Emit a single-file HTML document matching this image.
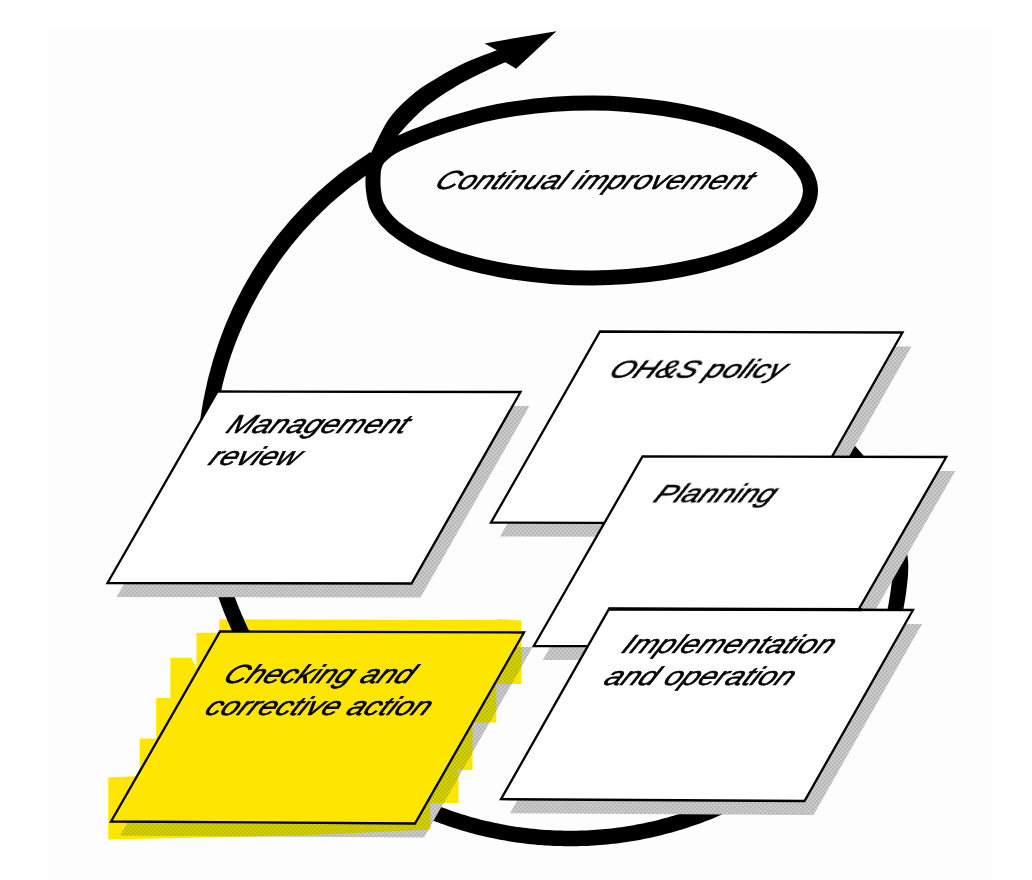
<!DOCTYPE html>
<html><head><meta charset="utf-8"><title>OH&amp;S management system</title>
<style>html,body{margin:0;padding:0;background:#fff;}body{width:1032px;height:880px;overflow:hidden;font-family:"Liberation Sans",sans-serif;}svg{display:block;isolation:isolate;}</style>
</head><body>
<svg width="1032" height="880" viewBox="0 0 1032 880">
<defs>
<pattern id="dither" width="4" height="4" patternUnits="userSpaceOnUse"><rect width="4" height="4" fill="#cacaca"/><rect width="2" height="2" fill="#b9b9b9"/><rect x="2" y="2" width="2" height="2" fill="#b9b9b9"/></pattern>
<pattern id="olive" width="4" height="4" patternUnits="userSpaceOnUse"><rect width="4" height="4" fill="#d2d008"/><rect width="2" height="2" fill="#c2c000"/><rect x="2" y="2" width="2" height="2" fill="#c2c000"/></pattern>
<clipPath id="hlclip"><polygon points="219.3,619.3 497.0,620.0 497.0,619.0 521.5,620.5 521.5,684.0 496.3,684.0 496.3,722.5 472.5,722.5 472.5,770.0 458.5,770.0 458.5,803.0 430.2,803.0 430.2,829.5 300.0,835.5 108.3,839.5 108.3,777.6 139.7,776.0 139.7,738.4 156.2,738.4 156.2,698.0 170.4,698.0 170.4,657.7 191.0,657.7 196.5,668.0 196.5,632.7 219.3,632.7"/></clipPath>
<filter id="ident" x="0" y="0" width="100%" height="100%" filterUnits="userSpaceOnUse"><feOffset dx="0" dy="0"/></filter>
<filter id="soft" x="-5%" y="-5%" width="110%" height="110%"><feGaussianBlur stdDeviation="0.8"/></filter>
</defs>
<rect width="1032" height="880" fill="#fff"/>
<rect x="48" y="28" width="944" height="852" fill="#fdfdfd"/>
<polygon points="219.3,619.3 497.0,620.0 497.0,619.0 521.5,620.5 521.5,684.0 496.3,684.0 496.3,722.5 472.5,722.5 472.5,770.0 458.5,770.0 458.5,803.0 430.2,803.0 430.2,829.5 300.0,835.5 108.3,839.5 108.3,777.6 139.7,776.0 139.7,738.4 156.2,738.4 156.2,698.0 170.4,698.0 170.4,657.7 191.0,657.7 196.5,668.0 196.5,632.7 219.3,632.7" fill="#ffe600"/>
<g>
<path d="M370.1 152.1 L368.7 153.1 L366.8 154.4 L364.5 156.0 L362.0 157.7 L359.3 159.6 L356.3 161.6 L353.3 163.7 L350.2 165.9 L347.1 168.1 L344.1 170.3 L341.2 172.5 L338.5 174.6 L335.9 176.7 L333.4 178.7 L330.9 180.8 L328.4 182.9 L325.9 185.1 L323.4 187.2 L321.0 189.4 L318.5 191.6 L316.1 193.8 L313.7 196.0 L311.4 198.3 L309.0 200.6 L306.7 202.9 L304.4 205.2 L302.1 207.5 L299.8 209.9 L297.6 212.3 L295.4 214.7 L293.2 217.1 L291.0 219.5 L288.8 222.0 L286.7 224.5 L284.6 227.0 L282.5 229.5 L280.4 232.0 L278.3 234.5 L276.3 237.1 L274.3 239.7 L272.3 242.3 L270.4 244.9 L268.4 247.6 L266.5 250.2 L264.6 252.9 L262.8 255.6 L260.9 258.3 L259.1 261.0 L257.3 263.7 L255.6 266.5 L253.8 269.3 L252.1 272.1 L250.4 274.9 L248.8 277.7 L247.1 280.5 L245.5 283.4 L243.9 286.2 L242.4 289.1 L240.8 292.0 L239.3 294.9 L237.8 297.8 L236.4 300.7 L234.9 303.7 L233.5 306.6 L232.1 309.6 L230.8 312.6 L229.5 315.5 L228.2 318.5 L226.9 321.6 L225.6 324.6 L224.4 327.6 L223.2 330.6 L222.0 333.7 L220.9 336.7 L219.8 339.8 L218.7 342.9 L217.6 346.0 L216.6 349.1 L215.6 352.2 L214.6 355.3 L213.6 358.4 L212.7 361.6 L211.8 364.7 L210.9 367.8 L210.1 371.0 L209.2 374.2 L208.4 377.3 L207.6 380.5 L206.9 383.7 L206.2 386.9 L205.5 390.0 L204.8 393.2 L204.2 396.4 L203.5 399.6 L202.9 402.8 L202.4 406.1 L201.8 409.3 L201.3 412.5 L200.8 415.7 L200.3 418.9 L199.9 422.2 L199.5 425.4 L199.1 428.6 L198.7 431.9 L198.4 435.1 L198.1 438.4 L197.8 441.7 L197.6 444.9 L197.4 448.2 L197.2 451.4 L197.0 454.7 L196.9 458.0 L196.8 461.2 L196.7 464.5 L196.7 467.8 L196.6 471.1 L196.7 474.3 L196.7 477.6 L196.8 480.9 L196.9 484.1 L197.0 487.4 L197.1 490.7 L197.3 493.9 L197.5 497.2 L197.8 500.5 L198.0 503.7 L198.3 507.0 L198.7 510.3 L199.0 513.5 L199.4 516.8 L199.8 520.0 L200.2 523.2 L200.7 526.5 L201.2 529.7 L201.7 533.0 L202.3 536.2 L202.9 539.4 L203.5 542.6 L204.1 545.8 L204.8 549.1 L205.5 552.3 L206.2 555.4 L206.9 558.6 L207.7 561.8 L208.5 565.0 L209.3 568.2 L210.2 571.3 L211.1 574.5 L212.0 577.6 L213.0 580.8 L213.9 583.9 L214.9 587.0 L215.9 590.1 L217.0 593.2 L218.1 596.3 L219.2 599.4 L220.3 602.5 L221.4 605.6 L222.6 608.6 L223.8 611.7 L225.0 614.7 L226.3 617.7 L227.5 620.8 L228.9 623.8 L230.2 626.8 L231.5 629.8 L232.9 632.8 L234.3 635.7 L235.8 638.7 L237.2 641.6 L238.7 644.5 L240.3 647.4 L241.8 650.4 L243.4 653.2 L245.0 656.1 L246.6 659.0 L248.2 661.8 L249.9 664.7 L251.6 667.5 L253.3 670.3 L255.1 673.0 L256.9 675.8 L258.7 678.6 L260.5 681.3 L262.4 684.0 L264.2 686.7 L266.1 689.4 L268.1 692.1 L270.0 694.7 L272.0 697.4 L274.0 700.0 L276.0 702.6 L278.0 705.2 L280.1 707.7 L282.2 710.3 L284.3 712.8 L286.4 715.3 L288.5 717.8 L290.7 720.3 L292.9 722.7 L295.1 725.2 L297.4 727.6 L299.6 730.0 L301.9 732.4 L304.2 734.7 L306.5 737.0 L308.8 739.4 L311.2 741.7 L313.6 743.9 L316.0 746.2 L318.4 748.4 L320.8 750.7 L323.3 752.8 L325.8 755.0 L328.3 757.2 L330.8 759.3 L333.3 761.4 L335.9 763.5 L338.4 765.5 L341.0 767.6 L343.6 769.6 L346.2 771.6 L348.9 773.6 L351.5 775.5 L354.2 777.4 L356.9 779.3 L359.6 781.2 L362.3 783.1 L365.1 784.9 L367.8 786.7 L370.6 788.5 L373.4 790.2 L376.2 792.0 L379.0 793.7 L381.9 795.4 L384.7 797.0 L387.6 798.7 L390.5 800.3 L393.3 801.9 L396.2 803.4 L399.2 805.0 L402.1 806.5 L405.0 808.0 L408.0 809.4 L411.0 810.9 L413.9 812.3 L416.9 813.7 L420.0 815.0 L423.0 816.3 L426.0 817.6 L429.1 818.9 L432.2 820.2 L435.2 821.4 L438.3 822.5 L441.4 823.7 L444.5 824.8 L447.7 825.9 L450.8 827.0 L453.9 828.0 L457.1 829.0 L460.2 830.0 L463.4 830.9 L466.6 831.8 L469.7 832.7 L472.9 833.6 L476.1 834.4 L479.3 835.2 L482.5 836.0 L485.7 836.7 L489.0 837.5 L492.2 838.1 L495.4 838.8 L498.7 839.4 L501.9 840.1 L505.1 840.6 L508.4 841.2 L511.6 841.7 L514.9 842.2 L518.2 842.7 L521.4 843.1 L524.7 843.5 L528.0 843.9 L531.3 844.3 L534.6 844.6 L537.8 844.9 L541.1 845.1 L544.4 845.4 L547.7 845.6 L551.0 845.8 L554.3 845.9 L557.6 846.0 L560.9 846.1 L564.2 846.2 L567.5 846.2 L570.8 846.3 L574.1 846.2 L577.4 846.2 L580.7 846.1 L584.0 846.0 L587.2 845.9 L590.5 845.7 L593.8 845.5 L597.1 845.3 L600.4 845.1 L603.7 844.8 L607.0 844.5 L610.2 844.1 L613.5 843.8 L616.8 843.4 L620.1 843.0 L623.3 842.5 L626.6 842.1 L629.8 841.6 L633.1 841.0 L636.3 840.5 L639.6 839.9 L642.8 839.3 L646.0 838.6 L649.3 837.9 L652.5 837.2 L655.7 836.5 L658.9 835.7 L662.1 835.0 L665.3 834.1 L668.5 833.3 L671.7 832.4 L674.8 831.5 L678.0 830.6 L681.1 829.7 L684.3 828.7 L687.4 827.7 L690.6 826.6 L693.7 825.6 L696.8 824.5 L699.9 823.4 L703.0 822.2 L706.0 821.1 L709.1 819.9 L712.2 818.7 L715.2 817.4 L718.3 816.1 L721.3 814.8 L724.3 813.5 L727.3 812.2 L730.3 810.8 L733.3 809.4 L736.3 807.9 L739.2 806.4 L742.2 804.9 L745.1 803.4 L748.0 801.8 L750.9 800.2 L753.8 798.6 L756.6 797.0 L759.5 795.3 L762.3 793.6 L765.1 791.8 L767.9 790.1 L770.7 788.3 L773.4 786.5 L776.1 784.6 L778.9 782.7 L781.5 780.8 L784.2 778.9 L786.9 776.9 L789.5 774.9 L792.1 772.9 L794.7 770.8 L797.2 768.8 L799.8 766.7 L802.3 764.6 L804.8 762.5 L807.2 760.4 L809.7 758.2 L812.2 756.0 L814.6 753.8 L817.0 751.6 L819.4 749.4 L821.8 747.1 L824.1 744.8 L826.4 742.5 L828.7 740.2 L831.0 737.9 L833.3 735.5 L835.5 733.2 L837.7 730.8 L839.9 728.4 L842.1 725.9 L844.3 723.5 L846.4 721.0 L848.5 718.5 L850.6 716.0 L852.7 713.5 L854.8 710.9 L856.8 708.3 L858.7 705.6 L860.7 703.0 L862.6 700.3 L864.4 697.6 L866.2 694.9 L868.0 692.1 L869.8 689.3 L871.5 686.6 L873.2 683.8 L874.8 681.0 L876.5 678.2 L878.1 675.4 L879.6 672.7 L881.1 670.1 L882.6 667.7 L884.1 665.3 L885.6 662.9 L887.1 660.3 L888.7 657.7 L890.2 654.9 L891.7 651.9 L893.1 648.6 L894.6 645.1 L895.9 641.2 L897.2 637.0 L898.4 632.4 L899.6 627.3 L900.8 621.9 L902.0 616.2 L903.2 610.2 L904.3 604.1 L905.3 598.0 L906.2 592.0 L906.9 586.1 L907.5 580.5 L908.0 575.2 L908.2 570.2 L908.3 565.6 L908.1 561.2 L907.6 557.0 L907.1 553.0 L906.3 549.2 L905.5 545.7 L904.6 542.3 L903.7 539.1 L902.8 536.1 L902.0 533.3 L901.2 530.6 L900.5 528.0 L899.8 525.4 L899.1 522.8 L898.4 520.5 L897.7 518.2 L896.9 516.0 L896.2 514.0 L895.4 512.0 L894.6 510.0 L893.8 508.0 L892.9 506.0 L892.0 504.0 L891.1 501.8 L890.1 499.6 L889.0 497.3 L887.9 494.9 L886.7 492.5 L885.5 490.1 L884.3 487.7 L883.0 485.3 L881.8 482.9 L880.5 480.6 L879.2 478.3 L877.9 476.1 L876.6 473.9 L875.3 471.9 L874.0 469.8 L872.6 467.9 L871.3 465.9 L870.0 464.1 L868.6 462.2 L867.2 460.4 L865.9 458.7 L864.5 457.0 L863.2 455.3 L861.8 453.6 L860.4 452.0 L859.0 450.4 L857.6 448.8 L856.2 447.2 L854.8 445.7 L853.4 444.1 L852.0 442.7 L850.5 441.2 L849.1 439.8 L847.6 438.3 L846.1 437.0 L844.7 435.6 L843.2 434.2 L841.5 432.8 L839.8 431.3 L838.0 429.9 L836.2 428.5 L834.4 427.1 L832.6 425.7 L830.9 424.5 L829.3 423.3 L827.9 422.2 L826.6 421.3 L825.5 420.5 L824.7 419.8 L815.3 432.2 L816.2 432.9 L817.4 433.7 L818.7 434.7 L820.1 435.7 L821.7 436.9 L823.3 438.1 L825.0 439.4 L826.7 440.7 L828.4 442.0 L830.0 443.3 L831.5 444.6 L832.8 445.8 L834.2 447.0 L835.5 448.3 L836.9 449.5 L838.2 450.8 L839.5 452.1 L840.9 453.5 L842.2 454.8 L843.5 456.2 L844.7 457.6 L846.0 459.0 L847.3 460.5 L848.6 462.0 L849.9 463.5 L851.2 465.1 L852.4 466.7 L853.7 468.3 L855.0 469.9 L856.2 471.5 L857.4 473.2 L858.7 474.9 L859.9 476.6 L861.1 478.4 L862.2 480.2 L863.4 482.1 L864.6 484.0 L865.8 486.0 L867.0 488.2 L868.2 490.3 L869.3 492.5 L870.5 494.8 L871.7 497.1 L872.8 499.3 L873.9 501.6 L875.0 503.8 L876.0 506.0 L876.9 508.2 L877.8 510.2 L878.7 512.2 L879.5 514.1 L880.3 515.9 L881.0 517.6 L881.6 519.4 L882.3 521.2 L882.9 523.1 L883.6 525.0 L884.2 527.1 L884.8 529.4 L885.5 532.0 L886.3 534.8 L887.1 537.7 L888.0 540.6 L888.9 543.5 L889.7 546.4 L890.5 549.4 L891.2 552.4 L891.8 555.6 L892.3 558.8 L892.6 562.3 L892.8 565.9 L892.8 569.8 L892.5 574.1 L892.1 579.0 L891.5 584.3 L890.8 589.9 L889.9 595.6 L889.0 601.5 L887.9 607.4 L886.8 613.1 L885.7 618.6 L884.5 623.8 L883.3 628.6 L882.2 632.8 L881.1 636.4 L880.0 639.7 L878.9 642.6 L877.7 645.3 L876.4 647.7 L875.1 650.1 L873.8 652.4 L872.4 654.7 L870.9 657.1 L869.4 659.6 L867.8 662.2 L866.2 665.0 L864.6 667.7 L863.1 670.4 L861.5 673.1 L859.9 675.8 L858.3 678.5 L856.6 681.1 L855.0 683.7 L853.3 686.3 L851.6 688.9 L849.8 691.4 L848.1 694.0 L846.3 696.4 L844.4 698.9 L842.5 701.3 L840.6 703.8 L838.7 706.2 L836.7 708.6 L834.7 710.9 L832.6 713.3 L830.5 715.6 L828.5 717.9 L826.3 720.3 L824.2 722.6 L822.0 724.8 L819.9 727.1 L817.7 729.3 L815.5 731.6 L813.3 733.8 L811.0 735.9 L808.7 738.1 L806.4 740.3 L804.1 742.4 L801.8 744.5 L799.5 746.6 L797.1 748.6 L794.7 750.7 L792.3 752.7 L789.9 754.7 L787.5 756.7 L785.0 758.7 L782.5 760.7 L780.0 762.6 L777.5 764.5 L775.0 766.4 L772.5 768.2 L769.9 770.0 L767.4 771.8 L764.8 773.6 L762.2 775.3 L759.5 777.0 L756.9 778.7 L754.2 780.3 L751.5 782.0 L748.8 783.6 L746.1 785.1 L743.3 786.7 L740.6 788.2 L737.8 789.7 L735.0 791.2 L732.2 792.6 L729.4 794.0 L726.6 795.4 L723.7 796.7 L720.9 798.1 L718.0 799.4 L715.1 800.6 L712.2 801.9 L709.3 803.1 L706.4 804.3 L703.4 805.5 L700.5 806.6 L697.5 807.7 L694.6 808.8 L691.6 809.9 L688.6 810.9 L685.6 811.9 L682.6 812.9 L679.6 813.9 L676.6 814.8 L673.6 815.8 L670.5 816.6 L667.5 817.5 L664.5 818.3 L661.4 819.1 L658.4 819.9 L655.3 820.7 L652.2 821.4 L649.1 822.1 L646.0 822.8 L642.9 823.4 L639.8 824.0 L636.7 824.6 L633.6 825.2 L630.5 825.7 L627.4 826.2 L624.3 826.7 L621.2 827.2 L618.0 827.6 L614.9 828.0 L611.8 828.4 L608.6 828.7 L605.5 829.1 L602.3 829.3 L599.2 829.6 L596.0 829.8 L592.9 830.1 L589.7 830.2 L586.5 830.4 L583.4 830.5 L580.2 830.6 L577.1 830.7 L573.9 830.7 L570.7 830.8 L567.6 830.7 L564.4 830.7 L561.3 830.6 L558.1 830.6 L554.9 830.4 L551.8 830.3 L548.6 830.1 L545.5 829.9 L542.3 829.7 L539.2 829.4 L536.0 829.1 L532.9 828.8 L529.7 828.5 L526.6 828.1 L523.4 827.7 L520.3 827.3 L517.2 826.9 L514.0 826.4 L510.9 825.9 L507.8 825.4 L504.7 824.8 L501.6 824.2 L498.5 823.6 L495.4 823.0 L492.3 822.3 L489.2 821.6 L486.1 820.9 L483.0 820.2 L480.0 819.4 L476.9 818.6 L473.9 817.8 L470.8 816.9 L467.8 816.0 L464.7 815.1 L461.7 814.2 L458.7 813.2 L455.7 812.2 L452.7 811.2 L449.7 810.2 L446.7 809.1 L443.8 808.0 L440.8 806.9 L437.9 805.8 L435.0 804.6 L432.1 803.4 L429.2 802.1 L426.3 800.9 L423.4 799.6 L420.5 798.2 L417.6 796.9 L414.8 795.5 L412.0 794.1 L409.1 792.7 L406.3 791.2 L403.5 789.7 L400.7 788.2 L398.0 786.7 L395.2 785.2 L392.5 783.6 L389.7 782.0 L387.0 780.4 L384.3 778.8 L381.6 777.1 L378.9 775.4 L376.3 773.7 L373.6 772.0 L371.0 770.2 L368.4 768.4 L365.8 766.6 L363.2 764.8 L360.7 763.0 L358.1 761.1 L355.6 759.2 L353.0 757.3 L350.5 755.4 L348.1 753.4 L345.6 751.4 L343.2 749.4 L340.7 747.4 L338.3 745.4 L335.9 743.3 L333.6 741.2 L331.2 739.1 L328.9 737.0 L326.5 734.9 L324.2 732.7 L322.0 730.5 L319.7 728.3 L317.4 726.1 L315.2 723.8 L313.0 721.6 L310.8 719.3 L308.7 717.0 L306.5 714.7 L304.4 712.4 L302.3 710.0 L300.2 707.6 L298.2 705.2 L296.1 702.8 L294.1 700.4 L292.1 698.0 L290.1 695.5 L288.2 693.0 L286.3 690.5 L284.4 688.0 L282.5 685.5 L280.6 683.0 L278.8 680.4 L276.9 677.8 L275.1 675.2 L273.4 672.6 L271.6 670.0 L269.9 667.4 L268.2 664.7 L266.5 662.1 L264.9 659.4 L263.2 656.7 L261.6 654.0 L260.0 651.3 L258.5 648.5 L257.0 645.8 L255.5 643.0 L254.0 640.2 L252.5 637.4 L251.1 634.6 L249.7 631.8 L248.3 629.0 L246.9 626.2 L245.6 623.3 L244.3 620.4 L243.1 617.6 L241.8 614.7 L240.6 611.8 L239.4 608.9 L238.2 605.9 L237.0 603.0 L235.9 600.1 L234.8 597.1 L233.7 594.2 L232.7 591.2 L231.7 588.2 L230.7 585.2 L229.7 582.2 L228.7 579.3 L227.8 576.2 L226.9 573.2 L226.0 570.2 L225.1 567.2 L224.3 564.2 L223.5 561.1 L222.8 558.1 L222.0 555.0 L221.3 552.0 L220.6 548.9 L219.9 545.8 L219.3 542.8 L218.7 539.7 L218.1 536.6 L217.6 533.5 L217.0 530.4 L216.5 527.3 L216.0 524.2 L215.6 521.1 L215.2 518.0 L214.8 514.9 L214.4 511.8 L214.1 508.6 L213.8 505.5 L213.5 502.4 L213.2 499.3 L213.0 496.1 L212.8 493.0 L212.6 489.9 L212.5 486.7 L212.3 483.6 L212.3 480.5 L212.2 477.3 L212.2 474.2 L212.1 471.1 L212.2 467.9 L212.2 464.8 L212.3 461.7 L212.4 458.5 L212.5 455.4 L212.6 452.3 L212.8 449.1 L213.0 446.0 L213.3 442.9 L213.5 439.8 L213.8 436.7 L214.1 433.5 L214.5 430.4 L214.9 427.3 L215.3 424.2 L215.7 421.1 L216.1 418.0 L216.6 414.9 L217.1 411.8 L217.6 408.7 L218.2 405.6 L218.8 402.5 L219.4 399.4 L220.0 396.4 L220.6 393.3 L221.3 390.2 L222.0 387.2 L222.7 384.1 L223.5 381.1 L224.3 378.1 L225.1 375.0 L225.9 372.0 L226.8 369.0 L227.7 366.0 L228.6 363.0 L229.5 360.1 L230.5 357.1 L231.5 354.1 L232.5 351.2 L233.6 348.2 L234.7 345.3 L235.8 342.3 L236.9 339.4 L238.1 336.5 L239.3 333.6 L240.5 330.8 L241.7 327.9 L242.9 325.0 L244.2 322.2 L245.5 319.3 L246.9 316.5 L248.2 313.7 L249.6 310.8 L251.0 308.1 L252.4 305.3 L253.9 302.5 L255.4 299.8 L256.9 297.0 L258.4 294.3 L259.9 291.6 L261.5 288.9 L263.1 286.2 L264.7 283.5 L266.4 280.8 L268.0 278.2 L269.7 275.6 L271.4 273.0 L273.2 270.4 L274.9 267.8 L276.7 265.2 L278.5 262.6 L280.3 260.1 L282.1 257.6 L284.0 255.0 L285.9 252.5 L287.8 250.1 L289.7 247.6 L291.6 245.1 L293.6 242.7 L295.6 240.3 L297.6 237.9 L299.6 235.5 L301.6 233.2 L303.7 230.8 L305.8 228.5 L307.9 226.2 L310.0 223.9 L312.2 221.6 L314.3 219.4 L316.5 217.1 L318.7 214.9 L320.9 212.7 L323.2 210.5 L325.4 208.4 L327.7 206.3 L330.0 204.1 L332.3 202.0 L334.7 200.0 L337.0 197.9 L339.4 195.9 L341.8 193.9 L344.2 191.9 L346.6 189.9 L349.0 188.0 L351.5 186.0 L354.2 184.0 L357.1 181.9 L360.1 179.7 L363.1 177.6 L366.0 175.6 L368.9 173.6 L371.6 171.7 L374.1 170.0 L376.4 168.4 L378.3 167.1 L379.9 166.0Z" fill="#000"/>
<path d="M366.0 163.0 C367.1 160.8 368.5 157.6 372.5 150.0 C376.5 142.4 382.9 127.1 390.0 117.5 C397.1 107.9 406.7 99.4 415.0 92.5 C423.3 85.6 431.7 81.2 440.0 76.2 C448.3 71.3 456.1 66.9 465.0 62.8 C473.9 58.7 485.7 54.6 493.5 51.6 C501.3 48.6 508.9 46.1 512.0 45.0 L520.0 56.0 L520.0 56.0 C517.9 56.9 512.3 59.4 507.3 61.6 C502.3 63.8 497.1 65.7 490.0 69.0 C482.9 72.3 473.3 76.7 465.0 81.3 C456.7 85.9 447.5 91.4 440.0 96.5 C432.5 101.6 427.1 105.4 420.0 112.0 C412.9 118.6 403.2 128.9 397.5 136.2 C391.8 143.6 387.9 152.7 386.0 156.0 Z" fill="#000"/>
<polygon points="556.4,31.2 520,37.2 484.6,43.6 500,52 505,62 516.1,68.8" fill="#000"/>
<path d="M451.6 123.5 C459.4 121.2 471.8 117.3 482.7 114.7 C493.7 112.2 505.4 110.0 517.3 108.3 C529.2 106.5 541.6 105.2 554.1 104.3 C566.5 103.4 579.7 103.0 592.0 103.0 C604.3 103.0 615.6 103.5 627.6 104.4 C639.6 105.3 652.1 106.7 663.9 108.5 C675.7 110.3 687.5 112.5 698.5 115.1 C709.6 117.7 720.3 120.8 730.2 124.1 C740.1 127.5 749.4 131.2 757.8 135.2 C766.1 139.1 773.7 143.4 780.2 147.8 C786.8 152.3 792.4 157.0 796.9 161.7 C801.3 166.4 804.8 171.4 807.1 176.2 C809.3 181.0 810.5 185.7 810.5 190.5 C810.5 195.3 809.3 200.0 807.1 204.8 C804.8 209.6 801.3 214.6 796.9 219.3 C792.4 224.0 786.8 228.7 780.2 233.2 C773.7 237.6 766.1 241.9 757.8 245.8 C749.4 249.8 740.1 253.5 730.2 256.9 C720.3 260.2 709.6 263.3 698.5 265.9 C687.5 268.5 675.7 270.7 663.9 272.5 C652.1 274.3 639.6 275.7 627.6 276.6 C615.6 277.5 604.3 278.0 592.0 278.0 C579.7 278.0 566.5 277.6 554.1 276.7 C541.6 275.8 529.2 274.5 517.3 272.7 C505.4 271.0 493.7 268.8 482.8 266.3 C471.8 263.7 461.2 260.8 451.6 257.5 C441.9 254.3 432.7 250.6 424.6 246.7 C416.5 242.9 409.1 238.6 402.8 234.2 C396.4 229.9 391.0 225.2 386.7 220.4 C382.4 215.7 379.0 210.7 376.8 205.7 C374.6 200.7 374.1 194.9 373.5 190.5 C372.9 186.1 372.9 183.2 373.0 179.5 C373.1 175.8 373.1 171.7 373.8 168.4 C374.5 165.1 375.0 162.7 377.3 159.6 C379.6 156.5 384.0 152.7 387.4 150.1 C390.8 147.5 392.9 146.3 397.7 144.0 C402.5 141.7 409.6 138.6 416.0 136.0 C422.4 133.4 430.0 130.7 435.9 128.6 C441.8 126.5 443.7 125.8 451.6 123.5Z" fill="none" stroke="#000" stroke-width="15"/>
</g>
<polygon points="609.0,345.5 911.5,346.5 803.0,537.5 500.0,536.5" fill="url(#dither)"/>
<polygon points="600.0,331.5 902.5,332.5 794.0,523.5 491.0,522.5" fill="#fff" stroke="#000" stroke-width="2.3" stroke-linejoin="miter"/>

<polygon points="226.5,405.5 529.5,406.0 420.5,597.5 116.5,597.0" fill="url(#dither)"/>
<polygon points="217.5,391.5 520.5,392.0 411.5,583.5 107.5,583.0" fill="#fff" stroke="#000" stroke-width="2.3" stroke-linejoin="miter"/>

<polygon points="651.5,470.5 955.3,471.0 846.5,660.2 542.8,660.0" fill="url(#dither)"/>
<polygon points="642.5,456.5 946.3,457.0 837.5,646.2 533.8,646.0" fill="#fff" stroke="#000" stroke-width="2.3" stroke-linejoin="miter"/>

<polygon points="229.0,645.5 533.0,646.5 424.0,837.5 120.0,835.5" fill="url(#dither)"/>
<polygon points="229.0,645.5 533.0,646.5 424.0,837.5 120.0,835.5" fill="url(#olive)" clip-path="url(#hlclip)"/>
<polygon points="220.0,631.5 524.0,632.5 415.0,823.5 111.0,821.5" fill="#ffe600" stroke="#000" stroke-width="2.3" stroke-linejoin="miter"/>
<polygon points="618.0,623.0 922.0,624.0 813.5,815.0 510.0,813.2" fill="url(#dither)"/>
<polygon points="609.0,609.0 913.0,610.0 804.5,801.0 501.0,799.2" fill="#fff" stroke="#000" stroke-width="2.3" stroke-linejoin="miter"/>

<line x1="608.5" y1="608.8" x2="862" y2="609.7" stroke="#000" stroke-width="3.2"/>
<g filter="url(#ident)">
<text transform="translate(433 189) skewX(-30) scale(1.18 1)" font-family="Liberation Sans, sans-serif" font-style="italic" font-size="26" fill="#000" stroke="#000" stroke-width="0.55">Continual improvement</text>
<text transform="translate(607 378) skewX(-30) scale(1.18 1)" font-family="Liberation Sans, sans-serif" font-style="italic" font-size="26" fill="#000" stroke="#000" stroke-width="0.55">OH&amp;S policy</text>
<text transform="translate(224.5 433) skewX(-30) scale(1.18 1)" font-family="Liberation Sans, sans-serif" font-style="italic" font-size="26" fill="#000" stroke="#000" stroke-width="0.55">Management</text>
<text transform="translate(207 464.5) skewX(-30) scale(1.18 1)" font-family="Liberation Sans, sans-serif" font-style="italic" font-size="26" fill="#000" stroke="#000" stroke-width="0.55">review</text>
<text transform="translate(651.7 502.5) skewX(-30) scale(1.18 1)" font-family="Liberation Sans, sans-serif" font-style="italic" font-size="26" fill="#000" stroke="#000" stroke-width="0.55">Planning</text>
<text transform="translate(620 653) skewX(-30) scale(1.18 1)" font-family="Liberation Sans, sans-serif" font-style="italic" font-size="26" fill="#000" stroke="#000" stroke-width="0.55">Implementation</text>
<text transform="translate(602 685) skewX(-30) scale(1.18 1)" font-family="Liberation Sans, sans-serif" font-style="italic" font-size="26" fill="#000" stroke="#000" stroke-width="0.55">and operation</text>
<text transform="translate(221.5 683) skewX(-30) scale(1.18 1)" font-family="Liberation Sans, sans-serif" font-style="italic" font-size="26" fill="#000" stroke="#000" stroke-width="0.55">Checking and</text>
<text transform="translate(203 714.5) skewX(-30) scale(1.18 1)" font-family="Liberation Sans, sans-serif" font-style="italic" font-size="26" fill="#000" stroke="#000" stroke-width="0.55">corrective action</text>
</g>
</svg>
</body></html>
